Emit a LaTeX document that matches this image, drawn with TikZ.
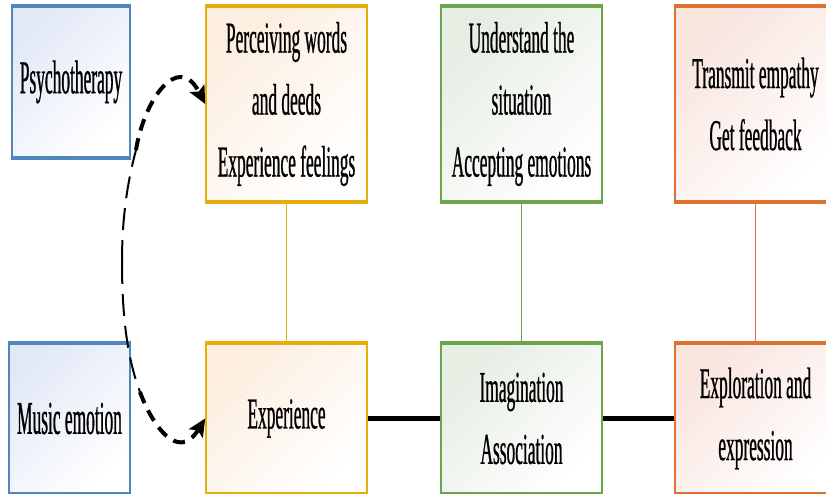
\documentclass[tikz,border=0pt]{standalone}
\usepackage{fontspec}
\setmainfont{Liberation Serif}
\newfontfamily\boxfont[FakeStretch=0.395, FakeBold=0.6]{Liberation Serif}
\newfontfamily\sidefont[FakeStretch=0.37, FakeBold=0.6]{Liberation Serif}
\usetikzlibrary{arrows.meta}

\definecolor{blueline}{HTML}{4F86C0}
\definecolor{bluetint}{HTML}{E2E9F6}
\definecolor{goldline}{HTML}{E5AE0B}
\definecolor{goldtint}{HTML}{FDEEDF}
\definecolor{greenline}{HTML}{6DA64A}
\definecolor{greentint}{HTML}{E6EDE3}
\definecolor{orangeline}{HTML}{DF7231}
\definecolor{orangetint}{HTML}{F9E4DE}

\tikzset{
  stagebox/.style n args={2}{rectangle, inner sep=0pt, align=center,
    draw=#1, line width=1.6pt, top color=#2, bottom color=white,
    shading angle=45, text=black,
    font=\boxfont\fontsize{44}{62}\selectfont},
  sidebox/.style={font=\sidefont\fontsize{47}{62}\selectfont},
  smallbox/.style={minimum width=118pt, minimum height=150pt},
  tallbox/.style={minimum width=161pt, minimum height=194pt},
  lowbox/.style={minimum width=161pt, minimum height=149pt},
  band/.style={line width=4pt, draw=#1},
  stem/.style={line width=1.8pt, draw=#1},
  flow/.style={line width=5pt, draw=black},
  loopthin/.style={line width=2pt, dash pattern=on 22pt off 10pt},
  loopthick/.style={line width=4pt, dash pattern=on 12pt off 8pt,
    -{Stealth[length=18pt,width=17pt,inset=4pt,line width=0pt]}},
}

\begin{document}
\begin{tikzpicture}[x=1pt, y=-1pt]
  \useasboundingbox (0,0) rectangle (826,493);
  \clip (0,0) rectangle (826,493);

  % left column
  \node[stagebox={blueline}{bluetint}, sidebox, smallbox] (psy) at (71,82) {Psychotherapy};
  \node[stagebox={blueline}{bluetint}, sidebox, minimum width=121pt, minimum height=149pt] (mus) at (69.5,418.5) {Music emotion};

  % upper row
  \node[stagebox={goldline}{goldtint}, tallbox] (per) at (286.5,104) {Perceiving words\\and deeds\\Experience feelings};
  \node[stagebox={greenline}{greentint}, tallbox] (und) at (521.5,104) {Understand the\\situation\\Accepting emotions};
  \node[stagebox={orangeline}{orangetint}, tallbox] (tra) at (755.5,104) {Transmit empathy\\Get feedback};

  % lower row
  \node[stagebox={goldline}{goldtint}, lowbox] (exp) at (286.5,418.5) {Experience};
  \node[stagebox={greenline}{greentint}, lowbox] (ima) at (521.5,418.5) {Imagination\\Association};
  \node[stagebox={orangeline}{orangetint}, lowbox] (xpl) at (755.5,418.5) {Exploration and\\expression};

  % vertical stems between the rows
  \draw[stem=goldline] (per.south) -- (exp.north);
  \draw[stem=greenline] (und.south) -- (ima.north);
  \draw[stem=orangeline] (tra.south) -- (xpl.north);

  % heavy top and bottom edges
  \foreach \n/\c in {psy/blueline, mus/blueline, per/goldline, exp/goldline,
                     und/greenline, ima/greenline, tra/orangeline, xpl/orangeline} {
    \draw[band=\c] (\n.north west) -- (\n.north east);
    \draw[band=\c] (\n.south west) -- (\n.south east);
  }

  % flow along the lower row
  \draw[flow] (exp.east) -- (ima.west);
  \draw[flow] (ima.east) -- (xpl.west);

  % dashed loop feeding both gold boxes
  \coordinate (loop) at (122,262);
  \coordinate (upbend) at (136,150);
  \coordinate (lowbend) at (140,392);
  \draw[loopthin] (loop) .. controls (122,215) and (128,180) .. (upbend);
  \draw[loopthick] (upbend) .. controls (144,100) and (178,52) .. (per.west);
  \draw[loopthin] (loop) .. controls (122,320) and (128,360) .. (lowbend);
  \draw[loopthick] (lowbend) .. controls (152,425) and (178,462) .. (exp.west);
\end{tikzpicture}
\end{document}
